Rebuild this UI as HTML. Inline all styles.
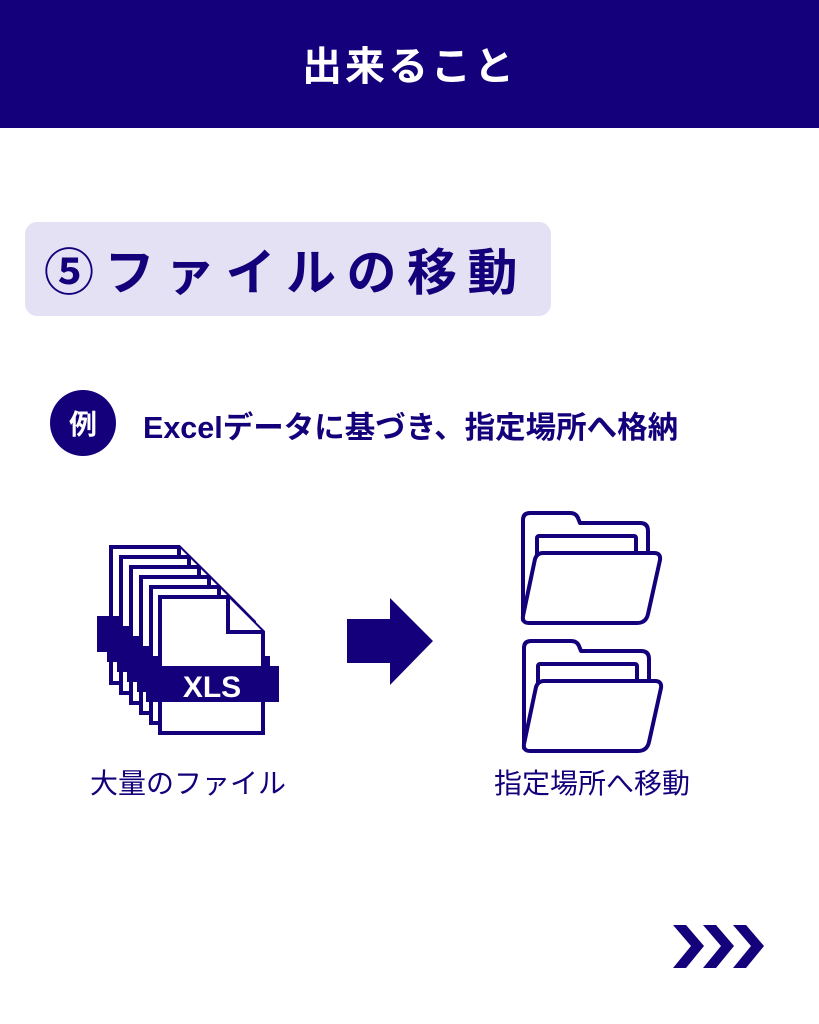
<!DOCTYPE html>
<html><head><meta charset="utf-8"><style>
html,body{margin:0;padding:0;background:#fff;}
svg{display:block}
text{font-family:"Liberation Sans","Noto Sans CJK JP",sans-serif;}
</style></head><body>
<svg width="819" height="1024" viewBox="0 0 819 1024" xmlns="http://www.w3.org/2000/svg">
<rect x="0" y="0" width="819" height="128" fill="#14007a"/>
<text x="409.5" y="80" text-anchor="middle" font-size="40" font-weight="bold" fill="#fff" letter-spacing="3">出来ること</text>
<rect x="25" y="222" width="526" height="94" rx="12" fill="#e3e1f3"/>
<text x="44" y="290" font-size="50" font-weight="bold" fill="#14007a" letter-spacing="10.5">⑤ファイルの移動</text>
<circle cx="83" cy="423" r="33" fill="#14007a"/>
<text x="83" y="434" text-anchor="middle" font-size="28" font-weight="bold" fill="#fff">例</text>
<text x="143" y="438" font-size="30.5" font-weight="bold" fill="#14007a">Excelデータに基づき、指定場所へ格納</text>
<g stroke="#14007a" stroke-width="4" stroke-linejoin="miter">
<g transform="translate(-49,-50)">
 <path d="M160,597 L228,597 L263,632 L263,733 L160,733 Z" fill="#fff"/>
 <path d="M228,597 L228,632 L263,632" fill="#fff"/>
 <rect x="146" y="666" width="133" height="36" fill="#14007a" stroke="none"/>
</g>
<g transform="translate(-39,-40)">
 <path d="M160,597 L228,597 L263,632 L263,733 L160,733 Z" fill="#fff"/>
 <path d="M228,597 L228,632 L263,632" fill="#fff"/>
 <rect x="146" y="666" width="133" height="36" fill="#14007a" stroke="none"/>
</g>
<g transform="translate(-29,-30)">
 <path d="M160,597 L228,597 L263,632 L263,733 L160,733 Z" fill="#fff"/>
 <path d="M228,597 L228,632 L263,632" fill="#fff"/>
 <rect x="146" y="666" width="133" height="36" fill="#14007a" stroke="none"/>
</g>
<g transform="translate(-19,-20)">
 <path d="M160,597 L228,597 L263,632 L263,733 L160,733 Z" fill="#fff"/>
 <path d="M228,597 L228,632 L263,632" fill="#fff"/>
 <rect x="146" y="666" width="133" height="36" fill="#14007a" stroke="none"/>
</g>
<g transform="translate(-9,-10)">
 <path d="M160,597 L228,597 L263,632 L263,733 L160,733 Z" fill="#fff"/>
 <path d="M228,597 L228,632 L263,632" fill="#fff"/>
 <rect x="146" y="666" width="133" height="36" fill="#14007a" stroke="none"/>
</g>
<g>
 <path d="M160,597 L228,597 L263,632 L263,733 L160,733 Z" fill="#fff"/>
 <path d="M228,597 L228,632 L263,632" fill="#fff"/>
 <rect x="146" y="666" width="133" height="36" fill="#14007a" stroke="none"/>
</g>
</g>
<text x="212" y="697" text-anchor="middle" font-size="30" font-weight="bold" fill="#fff">XLS</text>
<path d="M347,619 L390,619 L390,598 L433,641 L390,685 L390,663 L347,663 Z" fill="#14007a"/>
<g fill="#fff" stroke="#14007a" stroke-width="4" stroke-linejoin="round">
<g id="fold">
 <path d="M530,513 L570,513 Q576,513 578,518 L580,523 L640,523 Q648,523 648,531 L648,560 L523,620 L523,520 Q523,513 530,513 Z"/>
 <rect x="537" y="536" width="99" height="30" rx="2"/>
 <path d="M543,553 L654,553 Q661,553 660,560 L648,614 Q646,623 637,623 L529,623 Q522,623 523,616 L535,559 Q537,553 543,553 Z"/>
</g>
<use href="#fold" transform="translate(1,128)"/>
</g>
<text x="188" y="793" text-anchor="middle" font-size="28" fill="#14007a">大量のファイル</text>
<text x="592" y="793" text-anchor="middle" font-size="28" fill="#14007a">指定場所へ移動</text>
<g fill="#14007a">
<path d="M673,925 L686,925 L704,946 L686,968 L673,968 L691,946 Z"/>
<path d="M703,925 L716,925 L734,946 L716,968 L703,968 L721,946 Z"/>
<path d="M733,925 L746,925 L764,946 L746,968 L733,968 L751,946 Z"/>
</g>
</svg>
</body></html>
